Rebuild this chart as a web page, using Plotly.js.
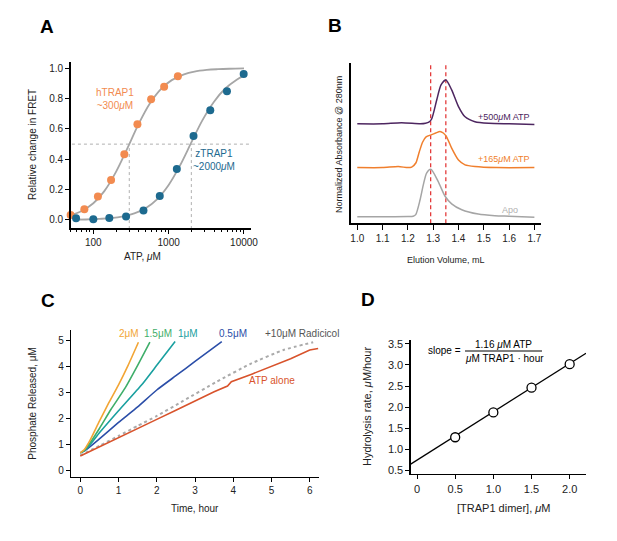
<!DOCTYPE html>
<html>
<head>
<meta charset="utf-8">
<script src="https://cdn.plot.ly/plotly-3.0.1.min.js"></script>
<style>
  body { margin: 0; background: #fff; }
  #fig { width: 617px; height: 541px; }
</style>
</head>
<body>
<div id="fig"></div>
<script>
// ---- panel A: FRET titration ----
const hAtp = [50, 76, 115, 172, 258, 385, 585, 871, 1325];
const hFret = [0.033, 0.07, 0.154, 0.264, 0.433, 0.631, 0.796, 0.879, 0.947];
const zAtp = [59, 100, 163, 272, 463, 762, 1284, 2138, 3566, 5940, 9900];
const zFret = [0.011, 0.004, 0.013, 0.022, 0.062, 0.158, 0.336, 0.554, 0.723, 0.848, 0.963];
// fitted curves
const hFitX = [50, 70, 100, 140, 200, 280, 400, 560, 800, 1100, 1600, 2200, 3200, 4500, 6400, 10000];
const hFitY = [0.032, 0.059, 0.11, 0.19, 0.317, 0.467, 0.633, 0.766, 0.866, 0.922, 0.96, 0.978, 0.989, 0.994, 0.997, 0.999];
const zFitX = [55, 80, 120, 170, 250, 350, 500, 700, 1000, 1400, 2000, 2800, 4000, 5600, 8000, 10000];
const zFitY = [0.002, 0.003, 0.007, 0.012, 0.024, 0.043, 0.079, 0.136, 0.231, 0.355, 0.511, 0.657, 0.78, 0.865, 0.925, 0.952];
const kdMarks = [300, 2000];

// ---- panel B: SEC traces (arbitrary units, offset) ----
const apoV = [1.0, 1.1, 1.2, 1.221, 1.231, 1.248, 1.261, 1.274, 1.291, 1.32, 1.347, 1.373, 1.413, 1.478, 1.544, 1.6, 1.7];
const apoA = [0.12, 0.12, 0.125, 0.13, 0.16, 0.43, 0.71, 0.93, 1.0, 0.77, 0.5, 0.36, 0.25, 0.17, 0.14, 0.13, 0.11];
const lowV = [1.0, 1.1, 1.162, 1.2, 1.215, 1.232, 1.245, 1.258, 1.272, 1.294, 1.31, 1.327, 1.34, 1.353, 1.373, 1.4, 1.426, 1.465, 1.55, 1.7];
const lowA = [1.03, 1.03, 1.05, 1.03, 1.04, 1.12, 1.32, 1.5, 1.6, 1.64, 1.67, 1.70, 1.67, 1.6, 1.39, 1.17, 1.08, 1.05, 1.03, 1.03];
const highV = [1.0, 1.1, 1.175, 1.25, 1.27, 1.283, 1.294, 1.314, 1.331, 1.35, 1.373, 1.4, 1.426, 1.465, 1.52, 1.6, 1.7];
const highA = [1.84, 1.84, 1.86, 1.84, 1.85, 1.87, 1.93, 2.28, 2.56, 2.65, 2.47, 2.16, 1.97, 1.88, 1.85, 1.84, 1.83];
const peakMarks = [1.29, 1.35];

// ---- panel C: phosphate release ----
const t2 = [0, 0.1, 0.25, 0.5, 0.75, 1.0, 1.25, 1.52];
const p2 = [0.68, 0.8, 1.15, 1.9, 2.62, 3.3, 4.05, 4.94];
const t15 = [0, 0.1, 0.25, 0.5, 0.8, 1.17, 1.5, 1.82];
const p15 = [0.68, 0.76, 1.05, 1.62, 2.35, 3.17, 4.05, 4.94];
const t1 = [0, 0.1, 0.25, 0.5, 1.0, 1.6, 2.0, 2.48];
const p1 = [0.68, 0.76, 0.98, 1.45, 2.3, 3.29, 4.05, 4.97];
const t05 = [0, 0.15, 0.5, 1.0, 1.5, 2.0, 2.5, 3.0, 3.7];
const p05 = [0.68, 0.8, 1.22, 1.85, 2.45, 3.1, 3.65, 4.2, 4.96];
const tAtp = [0, 0.5, 1, 1.5, 2, 2.5, 3, 3.5, 3.85, 3.95, 4.5, 5, 5.5, 6, 6.22];
const pAtp = [0.56, 0.92, 1.27, 1.62, 1.97, 2.32, 2.68, 3.03, 3.25, 3.42, 3.72, 4.0, 4.3, 4.64, 4.7];
const tRad = [0, 0.5, 1, 1.5, 2, 2.69, 3.57, 4.44, 5.31, 6.09];
const pRad = [0.58, 0.95, 1.33, 1.72, 2.1, 2.68, 3.42, 4.1, 4.64, 4.94];

// ---- panel D: hydrolysis rate ----
const dimer = [0.5, 1.0, 1.5, 2.0];
const rate = [1.28, 1.87, 2.46, 3.02];
const fitX = [-0.083, 2.214];
const fitY = [0.64, 3.28];

const W = 617, H = 541;
const px = x => x / W;
const py = y => 1 - y / H;
const FONT = 'Liberation Sans, Arial, sans-serif';
const guide = {color: '#b0b0b0', width: 1, dash: '3px,3px'};

const traces = [
  // A
  {x: [30, 20000], y: [0.5, 0.5], xaxis: 'x', yaxis: 'y', mode: 'lines', line: guide},
  {x: [kdMarks[0], kdMarks[0]], y: [-0.06, 0.5], xaxis: 'x', yaxis: 'y', mode: 'lines', line: guide},
  {x: [kdMarks[1], kdMarks[1]], y: [-0.06, 0.5], xaxis: 'x', yaxis: 'y', mode: 'lines', line: guide},
  {x: hFitX, y: hFitY, xaxis: 'x', yaxis: 'y', mode: 'lines', line: {color: '#a6a6a6', width: 1.8, shape: 'spline'}},
  {x: zFitX, y: zFitY, xaxis: 'x', yaxis: 'y', mode: 'lines', line: {color: '#a6a6a6', width: 1.8, shape: 'spline'}},
  {x: hAtp, y: hFret, xaxis: 'x', yaxis: 'y', mode: 'markers', marker: {color: '#f28b50', size: 8}, cliponaxis: false},
  {x: zAtp, y: zFret, xaxis: 'x', yaxis: 'y', mode: 'markers', marker: {color: '#1d6a8f', size: 8}, cliponaxis: false},
  // B
  {x: [peakMarks[0], peakMarks[0]], y: [0, 2.96], xaxis: 'x2', yaxis: 'y2', mode: 'lines', line: {color: '#e33b3b', width: 1.3, dash: '4px,3px'}},
  {x: [peakMarks[1], peakMarks[1]], y: [0, 2.96], xaxis: 'x2', yaxis: 'y2', mode: 'lines', line: {color: '#e33b3b', width: 1.3, dash: '4px,3px'}},
  {x: apoV, y: apoA, xaxis: 'x2', yaxis: 'y2', mode: 'lines', line: {color: '#a5a5a5', width: 1.5, shape: 'spline', smoothing: 0.7}},
  {x: lowV, y: lowA, xaxis: 'x2', yaxis: 'y2', mode: 'lines', line: {color: '#f07f2d', width: 1.5, shape: 'spline', smoothing: 0.6}},
  {x: highV, y: highA, xaxis: 'x2', yaxis: 'y2', mode: 'lines', line: {color: '#4d2660', width: 1.5, shape: 'spline', smoothing: 0.7}},
  // C
  {x: tRad, y: pRad, xaxis: 'x3', yaxis: 'y3', mode: 'lines', line: {color: '#aaaaaa', width: 2, dash: 'dot', shape: 'spline', smoothing: 0.5}},
  {x: tAtp, y: pAtp, xaxis: 'x3', yaxis: 'y3', mode: 'lines', line: {color: '#d8532c', width: 1.6}},
  {x: t05, y: p05, xaxis: 'x3', yaxis: 'y3', mode: 'lines', line: {color: '#2b4ea8', width: 1.6, shape: 'spline', smoothing: 0.5}},
  {x: t1, y: p1, xaxis: 'x3', yaxis: 'y3', mode: 'lines', line: {color: '#1aa0a0', width: 1.6, shape: 'spline', smoothing: 0.5}},
  {x: t15, y: p15, xaxis: 'x3', yaxis: 'y3', mode: 'lines', line: {color: '#3fae6a', width: 1.6, shape: 'spline', smoothing: 0.5}},
  {x: t2, y: p2, xaxis: 'x3', yaxis: 'y3', mode: 'lines', line: {color: '#f2a535', width: 1.6, shape: 'spline', smoothing: 0.5}},
  // D
  {x: fitX, y: fitY, xaxis: 'x4', yaxis: 'y4', mode: 'lines', line: {color: '#000', width: 1.2}},
  {x: dimer, y: rate, xaxis: 'x4', yaxis: 'y4', mode: 'markers', marker: {color: '#fff', size: 9, line: {color: '#000', width: 1.3}}}
];

function ax(extra) {
  return Object.assign({
    showline: true, linecolor: '#000', linewidth: 1.3,
    ticks: 'outside', ticklen: 4, tickwidth: 1, tickcolor: '#000',
    showgrid: false, zeroline: false, fixedrange: true,
    tickfont: {family: FONT, size: 10, color: '#222'}
  }, extra);
}

function label(text, x, y, opt) {
  return Object.assign({
    text: text, x: px(x), y: py(y), xref: 'paper', yref: 'paper',
    showarrow: false, xanchor: 'center', yanchor: 'middle',
    font: {family: FONT, size: 10, color: '#222'}
  }, opt || {});
}
const bold = (t, x, y) => label('<b>' + t + '</b>', x, y, {font: {family: FONT, size: 19, color: '#000'}});

const layout = {
  width: W, height: H,
  margin: {l: 0, r: 0, t: 0, b: 0},
  paper_bgcolor: '#fff', plot_bgcolor: 'rgba(0,0,0,0)',
  showlegend: false,
  xaxis: ax({domain: [px(70.5), px(251)], anchor: 'y', type: 'log', range: [1.697, 4.093],
    tickvals: [100, 1000, 10000], ticktext: ['100', '1000', '10000'],
    minor: {ticks: 'outside', ticklen: 2.5, tickcolor: '#000',
      tickvals: [50, 60, 70, 80, 90, 200, 300, 400, 500, 600, 700, 800, 900, 2000, 3000, 4000, 5000, 6000, 7000, 8000, 9000]}}),
  yaxis: ax({domain: [py(228.3), py(61.7)], anchor: 'x', range: [-0.055, 1.0435],
    tickvals: [0, 0.2, 0.4, 0.6, 0.8, 1.0], ticktext: ['0.0', '0.2', '0.4', '0.6', '0.8', '1.0']}),
  xaxis2: ax({domain: [px(350.7), px(540.7)], anchor: 'y2', range: [0.974, 1.725],
    tickvals: [1.0, 1.1, 1.2, 1.3, 1.4, 1.5, 1.6, 1.7], ticktext: ['1.0', '1.1', '1.2', '1.3', '1.4', '1.5', '1.6', '1.7'], ticklen: 5}),
  yaxis2: ax({domain: [py(223.3), py(63.3)], anchor: 'x2', range: [0, 2.96], ticks: '', showticklabels: false}),
  xaxis3: ax({domain: [px(71), px(319.3)], anchor: 'y3', range: [-0.243, 6.25],
    tickvals: [0, 1, 2, 3, 4, 5, 6]}),
  yaxis3: ax({domain: [py(476.5), py(330)], anchor: 'x3', range: [-0.23, 5.41],
    tickvals: [0, 1, 2, 3, 4, 5]}),
  xaxis4: ax({domain: [px(410.7), px(586)], anchor: 'y4', range: [-0.083, 2.214],
    tickvals: [0, 0.5, 1, 1.5, 2], ticktext: ['0', '0.5', '1.0', '1.5', '2.0'],
    tickfont: {family: FONT, size: 11, color: '#222'}}),
  yaxis4: ax({domain: [py(474), py(340)], anchor: 'x4', range: [0.405, 3.595],
    tickvals: [0.5, 1, 1.5, 2, 2.5, 3, 3.5], ticktext: ['0.5', '1.0', '1.5', '2.0', '2.5', '3.0', '3.5'],
    tickfont: {family: FONT, size: 11, color: '#222'}}),
  shapes: [
    {type: 'line', xref: 'paper', yref: 'paper', x0: px(465), x1: px(542), y0: py(351), y1: py(351), line: {color: '#000', width: 1}}
  ],
  annotations: [
    bold('A', 47, 27), bold('B', 335, 25), bold('C', 48, 300), bold('D', 368, 299),
    // A
    label('Relative change in FRET', 32, 145, {textangle: -90}),
    label('ATP, <i>μ</i>M', 142, 256),
    label('hTRAP1<br>~300<i>μ</i>M', 115, 99, {font: {family: FONT, size: 10, color: '#f28b50'}}),
    label('zTRAP1<br>~2000<i>μ</i>M', 214, 160, {font: {family: FONT, size: 10, color: '#1d6a8f'}}),
    // B
    label('Normalized Absorbance @ 280nm', 339, 145, {textangle: -90, font: {family: FONT, size: 9, color: '#222'}}),
    label('Elution Volume, mL', 445.7, 260, {font: {family: FONT, size: 9, color: '#222'}}),
    label('+500<i>μ</i>M ATP', 532, 116.7, {xanchor: 'right', font: {family: FONT, size: 9, color: '#4d2660'}}),
    label('+165<i>μ</i>M ATP', 532, 159.3, {xanchor: 'right', font: {family: FONT, size: 9, color: '#f07f2d'}}),
    label('Apo', 509.5, 210, {font: {family: FONT, size: 9, color: '#b0b0b0'}}),
    // C
    label('Phosphate Released, μM', 31.7, 403, {textangle: -90}),
    label('Time, hour', 195, 508),
    label('2μM', 128.7, 333.3, {font: {family: FONT, size: 10, color: '#f2a535'}}),
    label('1.5μM', 158, 333.3, {font: {family: FONT, size: 10, color: '#3fae6a'}}),
    label('1μM', 187.5, 333.3, {font: {family: FONT, size: 10, color: '#1aa0a0'}}),
    label('0.5μM', 233, 333.3, {font: {family: FONT, size: 10, color: '#2b4ea8'}}),
    label('+10μM Radicicol', 262.7, 333.3, {xanchor: 'left', font: {family: FONT, size: 10, color: '#555'}}),
    label('ATP alone', 272, 380, {font: {family: FONT, size: 10, color: '#d8532c'}}),
    // D
    label('Hydrolysis rate, <i>μ</i>M/hour', 367, 407, {textangle: -90, font: {family: FONT, size: 11, color: '#222'}}),
    label('[TRAP1 dimer], <i>μ</i>M', 503, 508, {font: {family: FONT, size: 11, color: '#222'}}),
    label('slope =', 444.5, 350, {font: {family: FONT, size: 10, color: '#000'}}),
    label('1.16 <i>μ</i>M ATP', 503, 344.5, {font: {family: FONT, size: 10, color: '#000'}}),
    label('<i>μ</i>M TRAP1 · hour', 504.5, 358.3, {font: {family: FONT, size: 10, color: '#000'}})
  ]
};

Plotly.newPlot('fig', traces, layout, {displayModeBar: false, staticPlot: true});
</script>
</body>
</html>
